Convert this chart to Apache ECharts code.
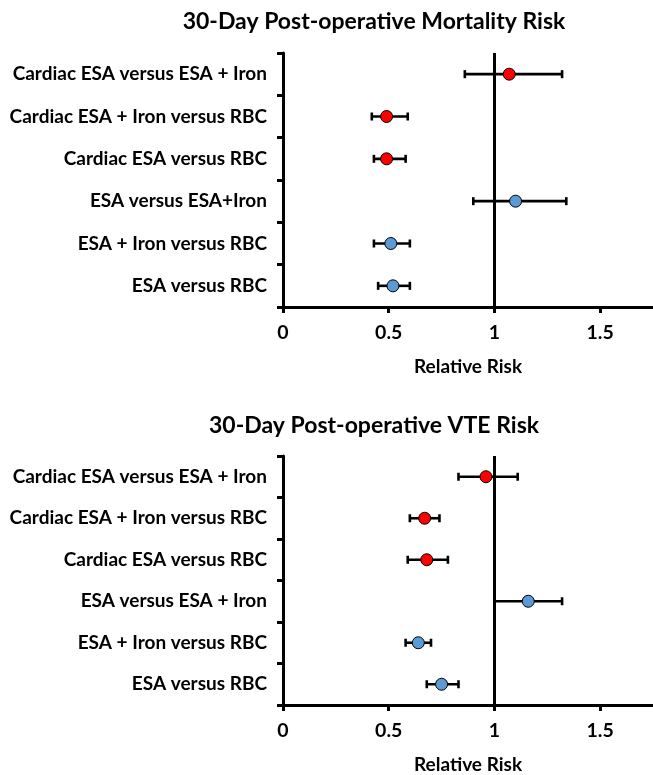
<!DOCTYPE html>
<html><head><meta charset="utf-8">
<script src="https://cdn.jsdelivr.net/npm/echarts@6/dist/echarts.min.js"></script>
<style>html,body{margin:0;padding:0;background:#fff}#c{width:653px;height:775px}</style>
</head><body><div id="c"></div>
<script>
// ---- data ----
const mortalityTitle = '30-Day Post-operative Mortality Risk';
const vteTitle = '30-Day Post-operative VTE Risk';
const axisTitle = 'Relative Risk';
const mortalityCategories = ['Cardiac ESA versus ESA + Iron','Cardiac ESA + Iron versus RBC','Cardiac ESA versus RBC','ESA versus ESA+Iron','ESA + Iron versus RBC','ESA versus RBC'];
const vteCategories = ['Cardiac ESA versus ESA + Iron','Cardiac ESA + Iron versus RBC','Cardiac ESA versus RBC','ESA versus ESA + Iron','ESA + Iron versus RBC','ESA versus RBC'];
const rowGroups = ['cardiac','cardiac','cardiac','general','general','general'];
const mortalityRR   = [1.07, 0.49, 0.49, 1.10, 0.51, 0.52];
const mortalityLow  = [0.86, 0.42, 0.43, 0.90, 0.43, 0.45];
const mortalityHigh = [1.32, 0.59, 0.58, 1.34, 0.60, 0.60];
const vteRR   = [0.96, 0.67, 0.68, 1.16, 0.64, 0.75];
const vteLow  = [0.83, 0.60, 0.59, 1.00, 0.58, 0.68];
const vteHigh = [1.11, 0.74, 0.78, 1.32, 0.70, 0.83];
const xTickLabels = ['0', '0.5', '1', '1.5'];
const referenceValue = 1;

// ---- styling ----
const FONT = 'Lato';
const groupColors = { cardiac: '#FF0000', general: '#5B9BD5' };
const chart = echarts.init(document.getElementById('c'), null, { renderer: 'canvas' });

function errorBarSeries(idx, low, high) {
  return {
    type: 'custom', xAxisIndex: idx, yAxisIndex: idx, z: 3,
    encode: { x: [0, 1], y: 2 },
    data: low.map((l, i) => [l, high[i], i]),
    renderItem: function (params, api) {
      const a = api.coord([api.value(0), api.value(2)]);
      const b = api.coord([api.value(1), api.value(2)]);
      const h = 4;
      const st = { stroke: '#000', lineWidth: 2.6 };
      return { type: 'group', children: [
        { type: 'line', shape: { x1: a[0], y1: a[1], x2: b[0], y2: b[1] }, style: st },
        { type: 'line', shape: { x1: a[0], y1: a[1] - h, x2: a[0], y2: a[1] + h }, style: st },
        { type: 'line', shape: { x1: b[0], y1: b[1] - h, x2: b[0], y2: b[1] + h }, style: st }
      ]};
    }
  };
}
function pointSeries(idx, rr) {
  return {
    type: 'scatter', xAxisIndex: idx, yAxisIndex: idx, z: 4,
    symbol: 'circle', symbolSize: 12,
    data: rr.map((v, i) => ({ value: [v, i], itemStyle: { color: groupColors[rowGroups[i]] } })),
    itemStyle: { borderColor: '#000', borderWidth: 1, opacity: 1 },
    markLine: {
      silent: true, symbol: 'none', label: { show: false },
      lineStyle: { color: '#000', width: 3, type: 'solid' },
      data: [{ xAxis: referenceValue }], z: 2
    }
  };
}
function xAxis(idx) {
  return {
    type: 'value', gridIndex: idx, min: 0, max: 1.75, interval: 0.5,
    name: axisTitle, nameLocation: 'middle', nameGap: 50,
    nameTextStyle: { fontFamily: FONT, fontWeight: 'bold', fontSize: 19, color: '#000' },
    axisLine: { show: true, lineStyle: { color: '#000', width: 3 } },
    axisTick: { show: true, length: 6, lineStyle: { color: '#000', width: 3 } },
    axisLabel: { showMaxLabel: false, margin: 16, fontFamily: FONT, fontWeight: 'bold', fontSize: 19.5, color: '#000',
      formatter: v => { const k = Math.round(v / 0.5); return xTickLabels[k] !== undefined ? xTickLabels[k] : ''; } },
    splitLine: { show: false }
  };
}
function yAxis(idx, cats) {
  return {
    type: 'category', gridIndex: idx, data: cats, inverse: true, boundaryGap: true,
    axisLine: { show: true, lineStyle: { color: '#000', width: 3 } },
    axisTick: { show: true, length: 6, alignWithLabel: false, lineStyle: { color: '#000', width: 3 } },
    axisLabel: { margin: 16, fontFamily: FONT, fontWeight: 'bold', fontSize: 19, color: '#000' },
    splitLine: { show: false }
  };
}

chart.setOption({
  animation: false,
  backgroundColor: '#fff',
  title: [
    { text: mortalityTitle, left: 369, top: 5, textAlign: 'center',
      textStyle: { fontFamily: FONT, fontWeight: 'bold', fontSize: 23, color: '#000' } },
    { text: vteTitle, left: 369, top: 409, textAlign: 'center',
      textStyle: { fontFamily: FONT, fontWeight: 'bold', fontSize: 23, color: '#000' } }
  ],
  grid: [
    { left: 283, right: 0, top: 53, height: 254 },
    { left: 283, right: 0, top: 456, height: 252 }
  ],
  xAxis: [xAxis(0), xAxis(1)],
  yAxis: [yAxis(0, mortalityCategories), yAxis(1, vteCategories)],
  series: [
    errorBarSeries(0, mortalityLow, mortalityHigh), pointSeries(0, mortalityRR),
    errorBarSeries(1, vteLow, vteHigh), pointSeries(1, vteRR)
  ]
});
</script></body></html>
